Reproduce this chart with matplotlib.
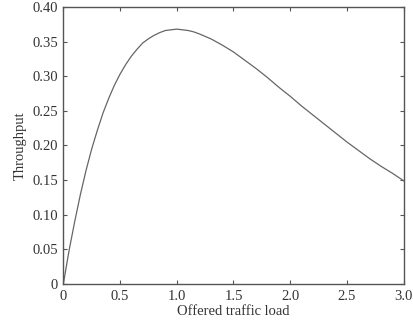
import matplotlib
matplotlib.use("Agg")
import matplotlib.pyplot as plt

load = [0, 0.05, 0.1, 0.15, 0.2, 0.25, 0.3, 0.35, 0.4, 0.45, 0.5, 0.55, 0.6,
        0.65, 0.7, 0.75, 0.8, 0.85, 0.9, 0.95, 1.0, 1.05, 1.1, 1.15, 1.2, 1.3,
        1.4, 1.5, 1.6, 1.7, 1.8, 1.9, 2.0, 2.1, 2.2, 2.3, 2.4, 2.5, 2.6, 2.7,
        2.8, 2.9, 3.0]
throughput = [0, 0.048, 0.090, 0.129, 0.164, 0.195, 0.222, 0.247, 0.268, 0.287,
              0.303, 0.317, 0.329, 0.339, 0.348, 0.354, 0.359, 0.363, 0.366,
              0.367, 0.368, 0.367, 0.366, 0.364, 0.361, 0.354, 0.345, 0.335,
              0.323, 0.311, 0.298, 0.284, 0.271, 0.257, 0.244, 0.231, 0.218,
              0.205, 0.193, 0.181, 0.170, 0.160, 0.149]
xticks = [0, 0.5, 1.0, 1.5, 2.0, 2.5, 3.0]
xlabels = ["0", "0.5", "1.0", "1.5", "2.0", "2.5", "3.0"]
yticks = [0, 0.05, 0.10, 0.15, 0.20, 0.25, 0.30, 0.35, 0.40]
ylabels = ["0", "0.05", "0.10", "0.15", "0.20", "0.25", "0.30", "0.35", "0.40"]

plt.rcParams["font.family"] = ["Liberation Serif", "DejaVu Serif"]
plt.rcParams["font.size"] = 10.5

fig = plt.figure(figsize=(4.14, 3.31), dpi=100)
ax = fig.add_axes([0.153, 0.142, 0.822, 0.837])
ax.plot(load, throughput, color="#666666", lw=0.9)
ax.set_xlim(0, 3.0)
ax.set_ylim(0, 0.40)
ax.set_xticks(xticks)
ax.set_xticklabels(xlabels)
ax.set_yticks(yticks)
ax.set_yticklabels(ylabels)
ax.tick_params(direction="in", top=True, right=True, length=3, colors="#555555",
               labelcolor="#333333", pad=4)
for s in ax.spines.values():
    s.set_color("#555555")
    s.set_linewidth(1.0)
ax.set_xlabel("Offered traffic load", color="#333333", labelpad=2)
ax.set_ylabel("Throughput", color="#333333", labelpad=4)

fig.savefig("out.png", dpi=100)
